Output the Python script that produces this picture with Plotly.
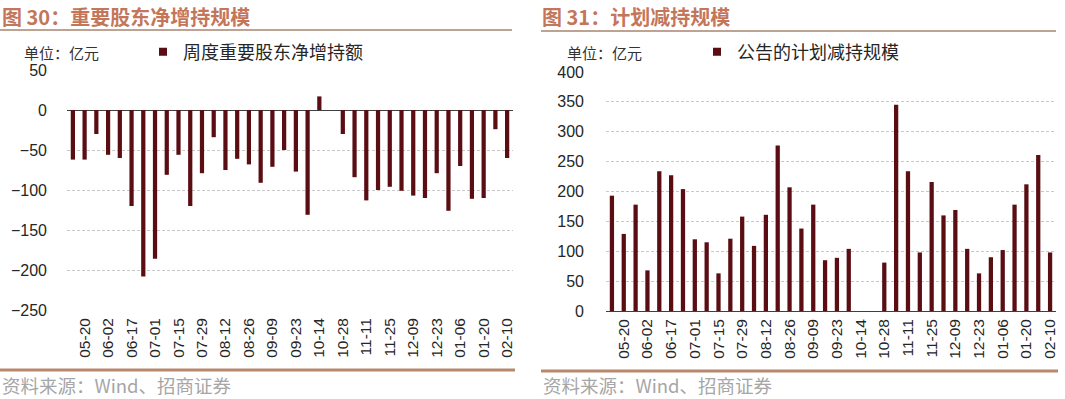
import plotly.graph_objects as go

# ---- data ----
dates = ["05-13", "05-20", "05-27", "06-02", "06-09", "06-17", "06-24", "07-01",
         "07-08", "07-15", "07-22", "07-29", "08-05", "08-12", "08-19", "08-26",
         "09-02", "09-09", "09-16", "09-23", "09-30", "10-14", "10-21", "10-28",
         "11-04", "11-11", "11-18", "11-25", "12-02", "12-09", "12-16", "12-23",
         "12-30", "01-06", "01-13", "01-20", "02-03", "02-10"]
tick_labels = dates[1::2]

net_increase = [-62, -62, -30, -56, -60, -120, -208, -186, -81, -56, -120, -79,
                -34, -75, -61, -68, -91, -71, -50, -77, -131, 17, 0, -30,
                -84, -113, -100, -96, -101, -107, -110, -79, -126, -70, -111, -110,
                -24, -60]

planned_reduction = [193, 129, 178, 68, 234, 227, 204, 120, 115, 63, 121, 158,
                     109, 161, 277, 207, 138, 178, 85, 89, 104, 0, 0, 81,
                     345, 234, 98, 216, 160, 169, 104, 63, 90, 102, 178, 212,
                     261, 98]

series1_name = "周度重要股东净增持额"
series2_name = "公告的计划减持规模"
title1 = "图 30：重要股东净增持规模"
title2 = "图 31：计划减持规模"
unit_text = "单位：亿元"
source_text = "资料来源：Wind、招商证券"

# ---- style ----
W, H = 1065, 399
BAR = "#5A0D13"
GRID = "#C9C9C9"
TITLE_C = "#C4765A"
NUM_FONT = "Liberation Sans, Arial, sans-serif"
CJK_FONT = "Noto Sans CJK SC, sans-serif"


def px_x(p):
    return p / W


def px_y(p):
    return 1 - p / H


fig = go.Figure()
fig.add_trace(go.Bar(x=dates, y=net_increase, marker_color=BAR, marker_line_width=0,
                     showlegend=False, xaxis="x", yaxis="y"))
fig.add_trace(go.Bar(x=dates, y=planned_reduction, marker_color=BAR, marker_line_width=0,
                     showlegend=False, xaxis="x2", yaxis="y2"))
# legend entries
fig.add_trace(go.Scatter(x=[None], y=[None], mode="markers", name=series1_name,
                         marker=dict(symbol="square", size=8, color=BAR),
                         xaxis="x", yaxis="y", legend="legend"))
fig.add_trace(go.Scatter(x=[None], y=[None], mode="markers", name=series2_name,
                         marker=dict(symbol="square", size=8, color=BAR),
                         xaxis="x2", yaxis="y2", legend="legend2"))

xcommon = dict(type="category", categoryorder="array", categoryarray=dates,
               tickmode="array", tickvals=tick_labels, ticktext=tick_labels,
               tickangle=-90, showgrid=False, zeroline=False, ticks="",
               automargin=False,
               tickfont=dict(family=NUM_FONT, size=15.5, color="#262626"),
               ticklabelstandoff=4)
ycommon = dict(dtick=50, showgrid=True, gridcolor=GRID, griddash="3px,2px", gridwidth=1,
               ticks="", automargin=False,
               tickfont=dict(family=NUM_FONT, size=16, color="#262626"),
               zeroline=True, zerolinecolor="#3F3F3F", zerolinewidth=1.2)

legend_common = dict(xanchor="left", yanchor="middle", bgcolor="rgba(0,0,0,0)",
                     itemwidth=30, font=dict(family=CJK_FONT, size=18, color="#262626"))

fig.update_layout(
    width=W, height=H, autosize=False,
    margin=dict(l=0, r=0, t=0, b=0, pad=0, autoexpand=False),
    paper_bgcolor="white", plot_bgcolor="white",
    bargap=0.64,
    xaxis=dict(domain=[px_x(67), px_x(513)], anchor="y", **xcommon),
    yaxis=dict(domain=[px_y(310), px_y(70)], anchor="x", range=[-250, 50],
               ticklabelstandoff=19, **ycommon),
    xaxis2=dict(domain=[px_x(606), px_x(1056)], anchor="y2", showline=False, **xcommon),
    yaxis2=dict(domain=[px_y(311), px_y(72)], anchor="x2", range=[0, 400],
                ticklabelstandoff=21, **ycommon),
    legend=dict(x=px_x(143), y=px_y(52), **legend_common),
    legend2=dict(x=px_x(697), y=px_y(52), **legend_common),
)

annotations = [
    dict(x=px_x(0), y=px_y(16), text="<b>" + title1 + "</b>", xanchor="left", yanchor="middle",
         font=dict(family=CJK_FONT, size=20, color=TITLE_C)),
    dict(x=px_x(540), y=px_y(16), text="<b>" + title2 + "</b>", xanchor="left", yanchor="middle",
         font=dict(family=CJK_FONT, size=20, color=TITLE_C)),
    dict(x=px_x(22), y=px_y(52), text=unit_text, xanchor="left", yanchor="middle",
         font=dict(family=CJK_FONT, size=15, color="#333333")),
    dict(x=px_x(565), y=px_y(52), text=unit_text, xanchor="left", yanchor="middle",
         font=dict(family=CJK_FONT, size=15, color="#333333")),
    dict(x=px_x(0), y=px_y(385), text=source_text, xanchor="left", yanchor="middle",
         font=dict(family=CJK_FONT, size=18.5, color="#A6A6A6")),
    dict(x=px_x(541), y=px_y(385), text=source_text, xanchor="left", yanchor="middle",
         font=dict(family=CJK_FONT, size=18.5, color="#A6A6A6")),
]
for a in annotations:
    a.update(xref="paper", yref="paper", showarrow=False)
fig.update_layout(annotations=annotations)

shapes = [
    dict(x0=px_x(0), x1=px_x(512), y0=px_y(30), y1=px_y(30), line=dict(color="#A88370", width=1.5)),
    dict(x0=px_x(541), x1=px_x(1056), y0=px_y(31), y1=px_y(31), line=dict(color="#A88370", width=1.5)),
    dict(x0=px_x(0), x1=px_x(515), y0=px_y(370), y1=px_y(370), line=dict(color="#B8876C", width=3)),
    dict(x0=px_x(541), x1=px_x(1058), y0=px_y(371), y1=px_y(371), line=dict(color="#B8876C", width=3)),
]
for s in shapes:
    s.update(type="line", xref="paper", yref="paper")
fig.update_layout(shapes=shapes)

fig.write_html("out.html", config={"displayModeBar": False},
               post_script="document.body.style.margin='0';")
